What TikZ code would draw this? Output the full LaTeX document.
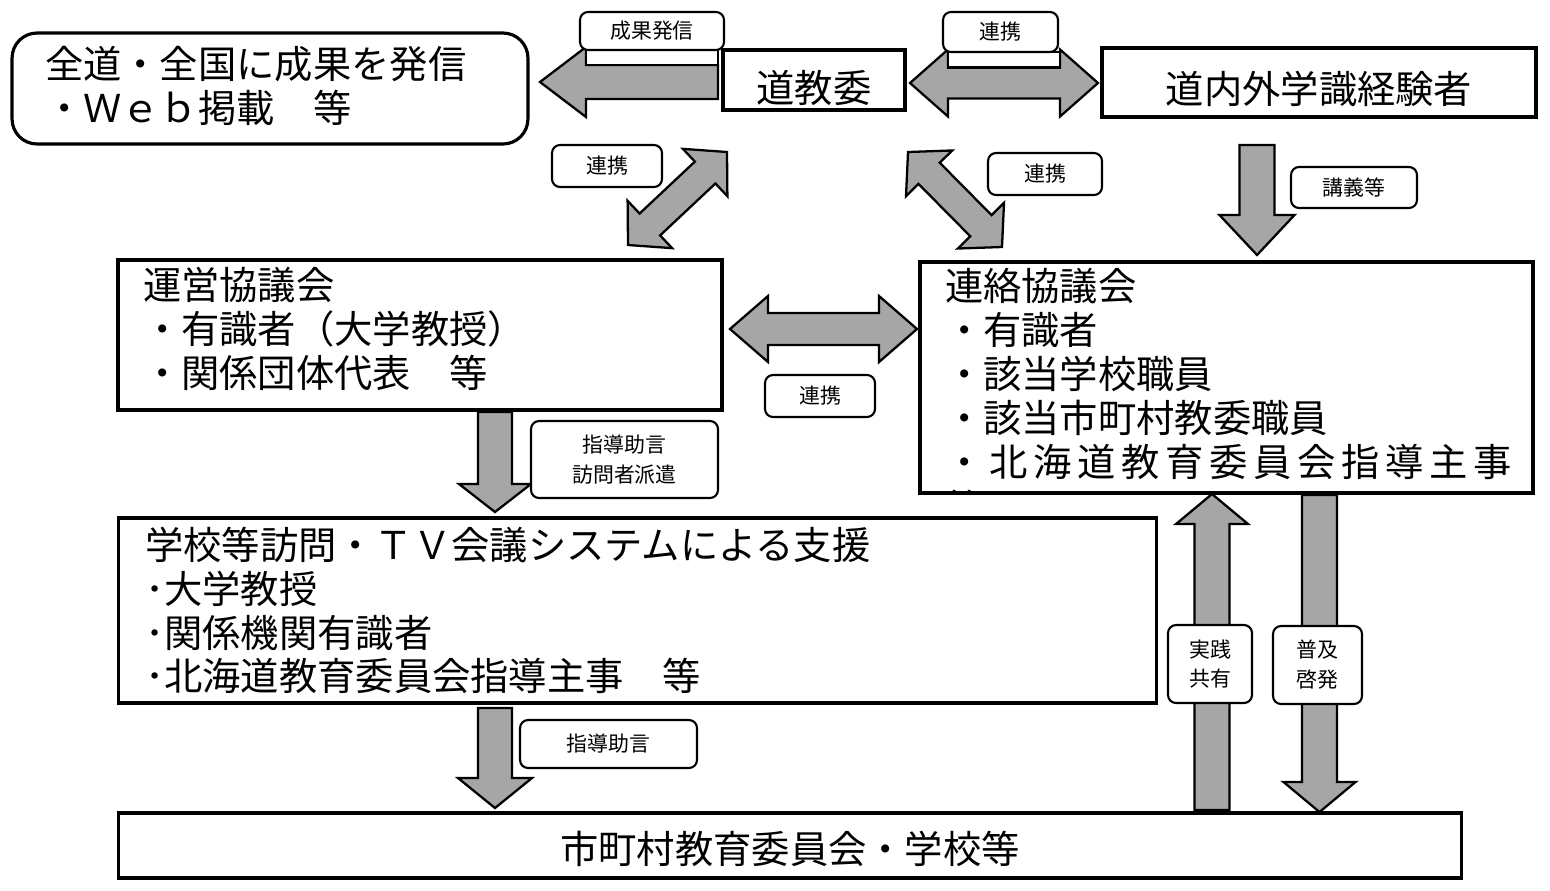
\documentclass[tikz,border=0pt]{standalone}
\usepackage{fontspec}
\setmainfont{Noto Sans CJK JP}
\usepackage{tikz}
\usetikzlibrary{calc}
\definecolor{arrowgray}{RGB}{166,166,166}
\newcommand{\boxfont}{\fontsize{21.8}{25}\selectfont}
\newcommand{\lblfont}{\fontsize{11.9}{17}\selectfont}
\tikzstyle{box}=[draw=black, line width=1.8pt, fill=white, shape=rectangle, inner sep=0pt, font=\boxfont]
\tikzstyle{rbox}=[box, rounded corners=0.5cm, align=left]
\tikzstyle{txtbox}=[box, align=left]
\tikzstyle{lbl}=[draw=black, line width=1.2pt, fill=white, shape=rectangle, rounded corners=0.16cm, inner sep=0pt, align=center, font=\lblfont]
\tikzstyle{strip}=[draw=black, line width=1.3pt, fill=white]
\tikzset{
	barrow/.style n args={3}{draw=black, line width=1.3pt, fill=arrowgray, line join=miter, to path={
		($(\tikztostart)!#1!90:(\tikztotarget)$) --
		($(\tikztotarget)!#3!(\tikztostart)!#1!-90:(\tikztostart)$) --
		($(\tikztotarget)!#3!(\tikztostart)!#2!-90:(\tikztostart)$) --
		(\tikztotarget) --
		($(\tikztotarget)!#3!(\tikztostart)!#2!90:(\tikztostart)$) --
		($(\tikztotarget)!#3!(\tikztostart)!#1!90:(\tikztostart)$) --
		($(\tikztostart)!#1!-90:(\tikztotarget)$) -- cycle}},
	dbarrow/.style n args={3}{draw=black, line width=1.3pt, fill=arrowgray, line join=miter, to path={
		($(\tikztostart)!#3!(\tikztotarget)!#1!90:(\tikztotarget)$) --
		($(\tikztotarget)!#3!(\tikztostart)!#1!-90:(\tikztostart)$) --
		($(\tikztotarget)!#3!(\tikztostart)!#2!-90:(\tikztostart)$) --
		(\tikztotarget) --
		($(\tikztotarget)!#3!(\tikztostart)!#2!90:(\tikztostart)$) --
		($(\tikztotarget)!#3!(\tikztostart)!#1!90:(\tikztostart)$) --
		($(\tikztostart)!#3!(\tikztotarget)!#1!-90:(\tikztotarget)$) --
		($(\tikztostart)!#3!(\tikztotarget)!#2!-90:(\tikztotarget)$) --
		(\tikztostart) --
		($(\tikztostart)!#3!(\tikztotarget)!#2!90:(\tikztotarget)$) -- cycle}}
}

\begin{document}
\begin{tikzpicture}[x=0.02cm, y=-0.02cm]
	\useasboundingbox (0,0) rectangle (1550,890);

	\node[rbox, text width=9cm, minimum width=10.32cm, minimum height=2.22cm] (1) at (270,88.5) {全道・全国に成果を発信\\・Ｗｅｂ掲載　等\rule[-4.5pt]{0pt}{0pt}};
	\node[box, minimum width=3.64cm, minimum height=1.2cm, text height=25.6pt, text depth=0pt] (2) at (814,80) {道教委};
	\node[box, minimum width=8.68cm, minimum height=1.38cm, text height=24pt, text depth=0pt] (3) at (1319,82.5) {道内外学識経験者};
	\node[txtbox, text width=11.08cm, minimum width=12.08cm, minimum height=3cm] (4) at (420,335) {運営協議会\\・有識者（大学教授）\\・関係団体代表　等\rule[-8.5pt]{0pt}{0pt}};
	\node[txtbox, text width=11.26cm, minimum width=12.26cm, minimum height=4.62cm] (5) at (1226.5,377.5) {連絡協議会\\・有識者\\・該当学校職員\\・該当市町村教委職員\\{\addfontfeature{LetterSpace=15}・北海道教育委員会指導主事}\rule[-5.5pt]{0pt}{0pt}};
	\node[txtbox, text width=19.7cm, minimum width=20.78cm, minimum height=3.7cm] (6) at (637.5,610.5) {学校等訪問・ＴＶ会議システムによる支援\\･大学教授\\･関係機関有識者\\･北海道教育委員会指導主事　等};
	\node[box, minimum width=26.88cm, minimum height=1.3cm, text height=20pt, text depth=0pt] (7) at (790,845.5) {市町村教育委員会・学校等};
	\begin{scope}
		\clip (920,262) rectangle (1533,490);
		\node[inner sep=0pt, anchor=north west, font=\boxfont] (8) at (946,489.5) {等};
	\end{scope}

	\coordinate (s1) at (718,82);
	\coordinate (e1) at (540,82);
	\coordinate (s2) at (910,83);
	\coordinate (e2) at (1098,83);
	\coordinate (s3) at (628,245);
	\coordinate (e3) at (727,152);
	\coordinate (s4) at (908,152);
	\coordinate (e4) at (1002,247);
	\coordinate (s5) at (730,329);
	\coordinate (e5) at (917,329);
	\coordinate (s6) at (1257,145);
	\coordinate (e6) at (1257,255);
	\coordinate (s7) at (495,412);
	\coordinate (e7) at (495,512);
	\coordinate (s8) at (495,708);
	\coordinate (e8) at (495,808);
	\coordinate (s9) at (1212,810);
	\coordinate (e9) at (1212,494);
	\coordinate (s10) at (1319.5,495);
	\coordinate (e10) at (1319.5,812);

	\draw[barrow={0.34cm}{0.7cm}{0.92cm}] (s1) to (e1);
	\draw[dbarrow={0.31cm}{0.67cm}{0.76cm}] (s2) to (e2);
	\draw[dbarrow={0.30cm}{0.65cm}{0.6cm}] (s3) to (e3);
	\draw[dbarrow={0.30cm}{0.65cm}{0.6cm}] (s4) to (e4);
	\draw[dbarrow={0.32cm}{0.66cm}{0.76cm}] (s5) to (e5);
	\draw[barrow={0.35cm}{0.75cm}{0.8cm}] (s6) to (e6);
	\draw[barrow={0.34cm}{0.72cm}{0.56cm}] (s7) to (e7);
	\draw[barrow={0.34cm}{0.74cm}{0.6cm}] (s8) to (e8);
	\draw[barrow={0.35cm}{0.72cm}{0.6cm}] (s9) to (e9);
	\draw[barrow={0.35cm}{0.72cm}{0.6cm}] (s10) to (e10);

	\draw[strip] (586,50) rectangle (718,65);
	\draw[strip] (948,52) rectangle (1060,67.5);

	\node[lbl, minimum width=2.88cm, minimum height=0.76cm] (l1) at (652,31) {成果発信};
	\node[lbl, minimum width=2.3cm, minimum height=0.8cm] (l2) at (1000.5,32) {連携};
	\node[lbl, minimum width=2.2cm, minimum height=0.84cm] (l3) at (607,166) {連携};
	\node[lbl, minimum width=2.28cm, minimum height=0.84cm] (l4) at (1045,174) {連携};
	\node[lbl, minimum width=2.52cm, minimum height=0.82cm] (l5) at (1354,187.5) {講義等};
	\node[lbl, minimum width=2.2cm, minimum height=0.84cm] (l6) at (820,396) {連携};
	\node[lbl, minimum width=3.74cm, minimum height=1.54cm] (l7) at (624.5,459.5) {指導助言\\訪問者派遣};
	\node[lbl, minimum width=3.54cm, minimum height=0.96cm] (l8) at (608.5,744) {指導助言};
	\node[lbl, minimum width=1.68cm, minimum height=1.56cm] (l9) at (1210,664) {実践\\共有};
	\node[lbl, minimum width=1.78cm, minimum height=1.56cm] (l10) at (1317.5,665) {普及\\啓発};
\end{tikzpicture}
\end{document}
